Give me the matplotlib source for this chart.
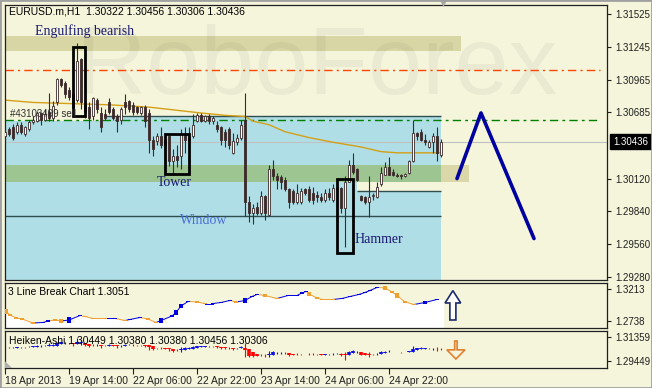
import matplotlib
matplotlib.use("Agg")
import matplotlib.pyplot as plt
import matplotlib.transforms as mtransforms
from matplotlib.patches import Rectangle, Polygon
import numpy as np

plt.rcParams['font.family'] = ['Liberation Sans', 'DejaVu Sans']

# ---- EURUSD H1 candles ----
opens = [1.3048, 1.3054, 1.3056, 1.3052, 1.3058, 1.3050, 1.3054, 1.3060, 1.3061, 1.3068,
         1.3062, 1.3069, 1.3064, 1.3077, 1.3097, 1.3094, 1.3088, 1.3084, 1.3079, 1.3114,
         1.3075, 1.3073, 1.3065, 1.3079, 1.3068, 1.3067, 1.3077, 1.3071, 1.3065, 1.3062,
         1.3077, 1.3078, 1.3075, 1.3073, 1.3068, 1.3073, 1.3068, 1.3045, 1.3044, 1.3048,
         1.3041, 1.3048, 1.3027, 1.3031, 1.3031, 1.3050, 1.3045, 1.3048, 1.3061, 1.3066,
         1.3061, 1.3065, 1.3061, 1.3058, 1.3056, 1.3052, 1.3054, 1.3034, 1.3043, 1.3047,
         1.3062, 1.2992, 1.2983, 1.2988, 1.2983, 1.2997, 1.2981, 1.3020, 1.3014, 1.3013,
         1.3011, 1.3003, 1.3001, 1.2992, 1.2992, 1.3003, 1.3003, 1.3000, 1.2998, 1.2996,
         1.2994, 1.3000, 1.2994, 1.3004, 1.3004, 1.2987, 1.3009, 1.3024, 1.3020, 1.2997,
         1.2996, 1.2992, 1.2997, 1.2996, 1.3007, 1.3015, 1.3022, 1.3018, 1.3015, 1.3015,
         1.3014, 1.3017, 1.3027, 1.3051, 1.3052, 1.3045, 1.3039, 1.3043, 1.3048, 1.30322]
highs = [1.3054, 1.3056, 1.3059, 1.3060, 1.3060, 1.3057, 1.3062, 1.3065, 1.3070, 1.3069,
         1.3071, 1.3085, 1.3078, 1.3098, 1.3098, 1.3095, 1.3090, 1.3085, 1.3128, 1.3115,
         1.3077, 1.3077, 1.3082, 1.3081, 1.3073, 1.3071, 1.3081, 1.3073, 1.3067, 1.3073,
         1.3084, 1.3079, 1.3077, 1.3074, 1.3074, 1.3075, 1.3071, 1.3048, 1.3051, 1.3056,
         1.3051, 1.3050, 1.3037, 1.3041, 1.3054, 1.3056, 1.3056, 1.3067, 1.3068, 1.3068,
         1.3066, 1.3067, 1.3065, 1.3061, 1.3057, 1.3054, 1.3056, 1.3051, 1.3050, 1.3062,
         1.3085, 1.2997, 1.2990, 1.2992, 1.3001, 1.2998, 1.3024, 1.3028, 1.3017, 1.3015,
         1.3013, 1.3004, 1.3003, 1.3007, 1.3004, 1.3004, 1.3006, 1.3005, 1.3001, 1.3000,
         1.3003, 1.3004, 1.3007, 1.3007, 1.3005, 1.3014, 1.3028, 1.3034, 1.3021, 1.2998,
         1.2997, 1.3014, 1.3000, 1.3009, 1.3022, 1.3026, 1.3030, 1.3020, 1.3017, 1.3016,
         1.3017, 1.3028, 1.3062, 1.3052, 1.3054, 1.3050, 1.3045, 1.3051, 1.3056, 1.30456]
lows = [1.3045, 1.3048, 1.3045, 1.3050, 1.3050, 1.3048, 1.3053, 1.3059, 1.3060, 1.3058,
        1.3061, 1.3061, 1.3061, 1.3075, 1.3090, 1.3081, 1.3079, 1.3066, 1.3077, 1.3071,
        1.3064, 1.3054, 1.3062, 1.3068, 1.3052, 1.3062, 1.3067, 1.3062, 1.3052, 1.3059,
        1.3067, 1.3069, 1.3066, 1.3067, 1.3066, 1.3056, 1.3034, 1.3031, 1.3041, 1.3038,
        1.3037, 1.3023, 1.3015, 1.3022, 1.3020, 1.3034, 1.3044, 1.3047, 1.3060, 1.3060,
        1.3060, 1.3059, 1.3059, 1.3052, 1.3041, 1.3039, 1.3037, 1.3033, 1.3041, 1.3045,
        1.2980, 1.2975, 1.2973, 1.2981, 1.2981, 1.2977, 1.2980, 1.3011, 1.3003, 1.3003,
        1.3001, 1.2987, 1.2990, 1.2990, 1.2990, 1.2998, 1.2992, 1.2990, 1.2992, 1.2992,
        1.2992, 1.2994, 1.2992, 1.3001, 1.2983, 1.2954, 1.3009, 1.3016, 1.3010, 1.2993,
        1.2990, 1.2979, 1.2994, 1.2995, 1.3006, 1.3015, 1.3015, 1.3014, 1.3013, 1.3012,
        1.3013, 1.3016, 1.3026, 1.3045, 1.3044, 1.3041, 1.3038, 1.3034, 1.3027, 1.30306]
closes = [1.3052, 1.3050, 1.3047, 1.3058, 1.3052, 1.3056, 1.3060, 1.3062, 1.3068, 1.3062,
          1.3067, 1.3064, 1.3074, 1.3097, 1.3092, 1.3084, 1.3082, 1.3073, 1.3112, 1.3077,
          1.3069, 1.3064, 1.3081, 1.3071, 1.3056, 1.3064, 1.3069, 1.3064, 1.3061, 1.3071,
          1.3073, 1.3071, 1.3069, 1.3069, 1.3073, 1.3061, 1.3045, 1.3037, 1.3048, 1.3041,
          1.3045, 1.3027, 1.3031, 1.3028, 1.3050, 1.3045, 1.3047, 1.3058, 1.3066, 1.3061,
          1.3065, 1.3061, 1.3064, 1.3054, 1.3045, 1.3045, 1.3041, 1.3044, 1.3047, 1.3058,
          1.2992, 1.2983, 1.2987, 1.2983, 1.2997, 1.2983, 1.3020, 1.3014, 1.3011, 1.3009,
          1.3003, 1.2992, 1.2992, 1.3000, 1.3001, 1.3000, 1.2994, 1.2994, 1.2996, 1.2994,
          1.3000, 1.2996, 1.3004, 1.3003, 1.2987, 1.3009, 1.3024, 1.3018, 1.3011, 1.2994,
          1.2992, 1.2996, 1.2998, 1.3005, 1.3017, 1.3022, 1.3015, 1.3015, 1.3014, 1.3014,
          1.3016, 1.3027, 1.3051, 1.3048, 1.3045, 1.3043, 1.3043, 1.3048, 1.3034, 1.30436]

# moving average (orange line)
ma_idx = [0, 7, 26, 36, 49, 55, 60, 62, 66, 70, 76, 82, 89, 94, 98, 109]
ma_val = [1.3079, 1.3077, 1.3075, 1.3073, 1.3068, 1.3066, 1.3065, 1.3061, 1.3058,
          1.3052, 1.3047, 1.3043, 1.3039, 1.3035, 1.3034, 1.3034]

# forecast zigzag
zz_idx = [113, 119, 132.25]
zz_val = [1.3012, 1.3068, 1.29608]

# levels
red_level = 1.3105
green_level = 1.3062
last_price = 1.30436

# time axis
tick_idx = [0, 16, 32, 48, 64, 80, 96]
tick_lbl = ["18 Apr 2013", "19 Apr 14:00", "22 Apr 06:00", "22 Apr 22:00",
            "23 Apr 14:00", "24 Apr 06:00", "24 Apr 22:00"]
price_ticks = [1.31525, 1.31245, 1.30965, 1.30685, 1.30120, 1.29840, 1.29560, 1.29280]

# 3 Line Break bricks: position, low, high, up (True = blue)
lb_idx = [0.25, 1.25, 2.75, 4.25, 7, 9.5, 10.75, 12.5, 14, 16, 18.75, 20, 22, 25, 27.5,
          30, 31.25, 33.75, 35.75, 37.75, 39, 41.75, 42.75, 44, 45.75, 48, 50, 52, 54,
          56.25, 57.75, 60, 61.75, 63, 65, 68, 70.75, 73, 74.25, 75.25, 76, 78, 79.25,
          82, 84.25, 86.25, 88.5, 90, 91.25, 93, 95, 96.75, 98, 100, 102.25, 105, 108]
lb_lo = [1.2842, 1.2812, 1.2768, 1.2753, 1.2694, 1.2708, 1.2723, 1.2738, 1.2708, 1.2708,
         1.2812, 1.2797, 1.2768, 1.2768, 1.2768, 1.2738, 1.2753, 1.2783, 1.2753, 1.2708,
         1.2708, 1.2797, 1.2827, 1.2931, 1.3020, 1.3005, 1.2990, 1.2990, 1.3005, 1.3035,
         1.3005, 1.3005, 1.3094, 1.3124, 1.3094, 1.3065, 1.3109, 1.3109, 1.3139, 1.3168,
         1.3109, 1.3065, 1.3050, 1.3050, 1.3065, 1.3094, 1.3124, 1.3154, 1.3183, 1.3228,
         1.3198, 1.3154, 1.3079, 1.3005, 1.2976, 1.2990, 1.3050]
lb_hi = [1.2916, 1.2842, 1.2797, 1.2783, 1.2723, 1.2723, 1.2753, 1.2768, 1.2768, 1.2797,
         1.2827, 1.2812, 1.2783, 1.2783, 1.2783, 1.2753, 1.2768, 1.2797, 1.2783, 1.2723,
         1.2783, 1.2827, 1.2901, 1.2990, 1.3035, 1.3035, 1.3005, 1.3005, 1.3020, 1.3050,
         1.3035, 1.3079, 1.3109, 1.3139, 1.3139, 1.3079, 1.3124, 1.3124, 1.3168, 1.3183,
         1.3168, 1.3094, 1.3065, 1.3065, 1.3079, 1.3109, 1.3139, 1.3168, 1.3198, 1.3243,
         1.3258, 1.3183, 1.3154, 1.3035, 1.2990, 1.3035, 1.3065]
lb_up = [0, 0, 0, 0, 0, 1, 1, 0, 0, 1, 1, 0, 0, 0, 1, 0, 1, 1, 0, 0, 1, 1, 1, 1, 1, 0,
         0, 1, 1, 1, 0, 1, 1, 1, 0, 0, 1, 1, 1, 1, 0, 0, 0, 0, 1, 1, 1, 1, 1, 1, 0, 0,
         0, 0, 0, 1, 1]

BG = '#f5f5dc'
DARK = '#3b2a2a'
W, H = 652, 388

fig = plt.figure(figsize=(6.52, 3.88), dpi=100)
fig.patch.set_facecolor(BG)


def px_axes(l, t, r, b):
    return fig.add_axes([l / W, 1 - b / H, (r - l) / W, (b - t) / H])


ax = px_axes(5, 5, 607, 280)
ax2 = px_axes(5, 283, 607, 328)
ax3 = px_axes(5, 331, 607, 368)
XMAX = 150.5
for a in (ax, ax2, ax3):
    a.set_facecolor(BG)
    a.set_xlim(0, XMAX)
    for s in a.spines.values():
        s.set_color('#202020')
        s.set_linewidth(0.9)
    a.yaxis.tick_right()
    a.tick_params(axis='y', labelsize=7, length=3, pad=3, colors='#202020')
    a.set_xticks([])

n = len(closes)
x = np.arange(n)
o = np.array(opens); h = np.array(highs); l = np.array(lows); c = np.array(closes)

# ---- main panel ----
ax.set_ylim(1.29254, 1.31602)
ax.set_yticks(price_ticks)
ax.set_yticklabels([f"{v:.5f}" for v in price_ticks])

ylo = 1.29254
ax.add_patch(Rectangle((0, ylo), 109, 1.3061 - ylo, fc='#b0dee6', ec='none', zorder=1))
ax.add_patch(Rectangle((25, 1.3061), 84, 0.0004, fc='#b0dee6', ec='none', zorder=1))
ax.add_patch(Rectangle((88, 1.3001), 21, 0.0008, fc=BG, ec='none', zorder=1.1))
ax.add_patch(Rectangle((0, 1.3009), 109, 0.0015, fc='#9dc592', ec='none', zorder=1.2))
ax.add_patch(Rectangle((109, 1.3009), 7, 0.0015, fc='#dad7a8', ec='none', zorder=1.2))
ax.add_patch(Rectangle((0, 1.3121), 114, 0.0013, fc='#d9d6a6', ec='none', zorder=1.2))

ax.text(78, 1.3084, 'RoboForex', fontsize=70, color='black', alpha=0.045,
        ha='center', va='baseline', zorder=1.5)

ax.hlines(1.3065, 25, 109, color='#2f4f4f', lw=1, zorder=1.6)
ax.hlines(1.3001, 88, 109, color='#2f4f4f', lw=1, zorder=1.6)
ax.hlines(1.2980, 0, 109, color='#2f4f4f', lw=1, zorder=1.6)
ax.axhline(last_price, color='#c0c0c0', lw=0.8, zorder=1.7)
ax.plot([0, 148.75], [red_level] * 2, color='#ff4500', lw=1,
        dashes=(6, 3, 1.5, 3), zorder=1.8)
ax.plot([0, 148.75], [green_level] * 2, color='#008000', lw=1,
        dashes=(6, 3, 2, 3), zorder=1.8)

ax.plot(ma_idx, ma_val, color='#d4a017', lw=1, zorder=2)

up = c >= o
ax.vlines(x, l, h, color=DARK, lw=0.8, zorder=3)
body = np.maximum(np.abs(c - o), 0.00004)
bot = np.minimum(o, c)
ax.bar(x[up], body[up], bottom=bot[up], width=0.7, color='white',
       edgecolor=DARK, linewidth=0.6, zorder=3.2)
ax.bar(x[~up], body[~up], bottom=bot[~up], width=0.7, color=DARK,
       edgecolor=DARK, linewidth=0.6, zorder=3.2)

ax.plot(zz_idx, zz_val, color='#0000a0', lw=2.6, solid_capstyle='round', zorder=4)

for (x0, x1, y0, y1) in [(17, 20, 1.3065, 1.3124), (40, 46, 1.3016, 1.3050),
                         (83, 87, 1.29488, 1.3012)]:
    ax.add_patch(Rectangle((x0, y0), x1 - x0, y1 - y0, fill=False, ec='black',
                           lw=2, zorder=5))

serif = ['Liberation Serif', 'DejaVu Serif']
ax.text(7.5, 1.3138, 'Engulfing bearish', family=serif, fontsize=10,
        color='#191970', va='center', zorder=5)
ax.text(38, 1.3009, 'Tower', family=serif, fontsize=10, color='#191970',
        va='center', zorder=5)
ax.text(43.75, 1.2976, 'Window', family=serif, fontsize=10, color='#4a6fd8',
        va='center', zorder=5)
ax.text(87.5, 1.2960, 'Hammer', family=serif, fontsize=10, color='#191970',
        va='center', zorder=5)
ax.text(1.25, 1.3067, '#43103499 sell', fontsize=7, color='#303030',
        va='center', zorder=5)
ax.text(0.007, 0.975, 'EURUSD.m,H1  1.30322 1.30456 1.30306 1.30436',
        transform=ax.transAxes, fontsize=7.5, va='center', zorder=6)

trans = mtransforms.blended_transform_factory(ax.transAxes, ax.transData)
ax.text(1.01, last_price, f"{last_price:.5f}", transform=trans, fontsize=7,
        color='white', va='center', ha='left',
        bbox=dict(boxstyle='square,pad=0.3', fc='black', ec='black'), zorder=6)

fig.patches.append(Polygon([(440 / W, 1 - 0.5 / H), (447 / W, 1 - 0.5 / H),
                            (443.5 / W, 1 - 7 / H)], closed=True,
                           transform=fig.transFigure, fc='#a8a8a8', ec='none'))

# ---- 3 Line Break panel ----
ax2.set_ylim(1.2634, 1.3302)
ax2.set_yticks([1.3213, 1.2738])
ax2.set_yticklabels(['1.3213', '1.2738'])
lbx = np.array(lb_idx); lblo = np.array(lb_lo); lbhi = np.array(lb_hi)
fx = np.concatenate([[0], lbx, [109.5]])
fy = np.concatenate([[lblo[0]], lblo, [lblo[-1]]])
ax2.fill_between(fx, fy, 1.2634, step='mid', color='white', zorder=1)
cols = ['#0000e0' if u else '#f0a030' for u in lb_up]
for i in range(1, len(lbx)):
    ym = (lblo[i] + lbhi[i]) / 2
    yp = (lblo[i - 1] + lbhi[i - 1]) / 2
    ax2.plot([lbx[i - 1], lbx[i]], [yp, ym], color=cols[i], lw=0.7, zorder=2)
ax2.bar(lbx, lbhi - lblo, bottom=lblo, width=0.9, color=cols, zorder=3)
ax2.text(0.005, 0.8, '3 Line Break Chart 1.3051', transform=ax2.transAxes,
         fontsize=7.5, va='center', zorder=4)
ax2.add_patch(Polygon([(0.731, 0.556), (0.744, 0.83), (0.757, 0.556), (0.749, 0.556),
                       (0.749, 0.178), (0.739, 0.178), (0.739, 0.556)],
                      closed=True, transform=ax2.transAxes, fc='white',
                      ec='#1c2a6b', lw=1.2, zorder=4))

# ---- Heiken-Ashi panel (computed from the candles) ----
ax3.set_ylim(1.2889, 1.3184)
ax3.set_yticks([1.31359, 1.29449])
ax3.set_yticklabels(['1.31359', '1.29449'])
ha_c = (o + h + l + c) / 4
ha_o = np.empty(n)
ha_o[0] = (o[0] + c[0]) / 2
for i in range(1, n):
    ha_o[i] = (ha_o[i - 1] + ha_c[i - 1]) / 2
ha_h = np.maximum(h, np.maximum(ha_o, ha_c))
ha_l = np.minimum(l, np.minimum(ha_o, ha_c))
hcol = np.where(ha_c >= ha_o, '#1010e0', '#ff0000')
ax3.vlines(x, ha_l, ha_h, colors=hcol, lw=0.8, zorder=2)
ax3.vlines(x, ha_o, ha_c, colors=hcol, lw=2.6, zorder=2)
ax3.text(0.006, 0.73, 'Heiken-Ashi 1.30449 1.30380 1.30380 1.30456 1.30306',
         transform=ax3.transAxes, fontsize=7.5, va='center', zorder=4)
ax3.add_patch(Polygon([(0.747, 0.73), (0.747, 0.49), (0.734, 0.49), (0.749, 0.243),
                       (0.764, 0.49), (0.751, 0.49), (0.751, 0.73)],
                      closed=True, transform=ax3.transAxes, fc=BG,
                      ec='#e08030', lw=1.2, zorder=4))
ax3.add_patch(Polygon([(0, 0), (0.012, 0), (0, 0.18)], closed=True,
                      transform=ax3.transAxes, fc='#b0b0b0', ec='none', zorder=4))

ax3.set_xticks(tick_idx)
ax3.set_xticklabels(tick_lbl, fontsize=7.5)
for t in ax3.get_xticklabels():
    t.set_horizontalalignment('left')
ax3.tick_params(axis='x', length=4, pad=2, colors='#202020')

fig.patches.append(Rectangle((0, 0), 1, 1, transform=fig.transFigure, fill=False,
                             ec='#a0a0a0', lw=2))

fig.savefig('out.png', dpi=100, facecolor=BG)
